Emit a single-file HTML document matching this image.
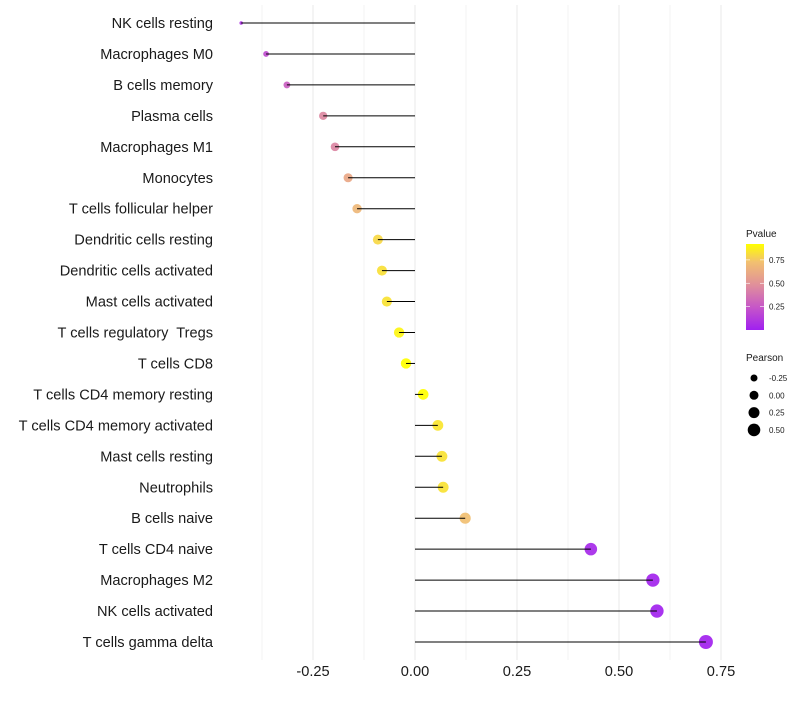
<!DOCTYPE html>
<html><head><meta charset="utf-8"><style>
body{margin:0;background:#fff;font-family:"Liberation Sans",sans-serif}
text{white-space:pre}
</style></head><body>
<svg id="c" width="800" height="700" xmlns="http://www.w3.org/2000/svg"></svg>
<script>
const categories=["NK cells resting","Macrophages M0","B cells memory","Plasma cells","Macrophages M1","Monocytes","T cells follicular helper","Dendritic cells resting","Dendritic cells activated","Mast cells activated","T cells regulatory  Tregs","T cells CD8","T cells CD4 memory resting","T cells CD4 memory activated","Mast cells resting","Neutrophils","B cells naive","T cells CD4 naive","Macrophages M2","NK cells activated","T cells gamma delta"];
const pearson=[-0.426,-0.365,-0.314,-0.225,-0.196,-0.164,-0.142,-0.091,-0.081,-0.069,-0.039,-0.022,0.020,0.056,0.066,0.069,0.123,0.431,0.583,0.593,0.713];
const pvalue=[0.08,0.2,0.28,0.45,0.44,0.6,0.68,0.82,0.85,0.86,0.93,0.99,0.99,0.87,0.86,0.86,0.72,0.04,0.02,0.015,0.01];
const xTicks=[-0.25,0,0.25,0.5,0.75];
const xTickLabels=["-0.25","0.00","0.25","0.50","0.75"];
const sizeBreaks=[-0.25,0,0.25,0.5];
const colorBreaks=[0.25,0.5,0.75];
const NS="http://www.w3.org/2000/svg",svg=document.getElementById('c');
function el(t,a,p){const e=document.createElementNS(NS,t);for(const k in a)e.setAttribute(k,a[k]);(p||svg).appendChild(e);return e;}
const x=v=>415+v*408;
const y=i=>23+i*30.95;
const rA=[[-0.45,1.3],[-0.36,3],[-0.25,4],[-0.09,5],[0,5.3],[0.25,5.8],[0.45,6.3],[0.75,7.1]];
function r(v){for(let i=0;i<rA.length-1;i++){const a=rA[i],b=rA[i+1];if(v<=b[0]||i==rA.length-2){const t=(v-a[0])/(b[0]-a[0]);return a[1]+(b[1]-a[1])*t;}}}
const stops=[[0,[160,32,240]],[0.25,[198,86,200]],[0.5,[224,144,154]],[0.75,[242,192,112]],[1,[255,255,0]]];
function col(p){p=Math.max(0,Math.min(1,p/0.97));let i=0;while(i<stops.length-2&&p>stops[i+1][0])i++;const a=stops[i],b=stops[i+1];const t=(p-a[0])/(b[0]-a[0]);return `rgb(${a[1].map((c,k)=>Math.round(c+(b[1][k]-c)*t)).join(',')})`;}
for(let v=-0.375;v<=0.76;v+=0.125){const g=el('line',{x1:x(v),x2:x(v),y1:5,y2:660,stroke:'#ebebeb','stroke-width':Math.abs((v/0.25)%1)<0.01?1.1:0.6});
}
xTicks.forEach((v,i)=>{const t=el('text',{x:x(v),y:676,'text-anchor':'middle','font-size':14.6,fill:'#1a1a1a'});t.textContent=xTickLabels[i];
});
categories.forEach((c,i)=>{
const t=el('text',{x:213,y:y(i)+5,'text-anchor':'end','font-size':14.6,fill:'#1a1a1a'});t.textContent=c;

const d=el('circle',{cx:x(pearson[i]),cy:y(i),r:r(pearson[i]),fill:col(pvalue[i]),'fill-opacity':0.92});

const l=el('line',{x1:x(0),x2:x(pearson[i]),y1:y(i),y2:y(i),stroke:'#000','stroke-width':1});

});
const defs=el('defs',{});const lg=el('linearGradient',{id:'g',x1:0,y1:1,x2:0,y2:0},defs);
stops.forEach(s=>el('stop',{offset:s[0]*0.97/0.92>1?1:s[0]*0.97/0.92,'stop-color':`rgb(${s[1].join(',')})`},lg));
let t=el('text',{x:746,y:237,'font-size':10,fill:'#1a1a1a'});t.textContent='Pvalue';

const bar=el('rect',{x:746,y:244,width:18,height:86,fill:'url(#g)'});

colorBreaks.forEach(v=>{const yy=330-v/0.92*86;
el('line',{x1:746,x2:750,y1:yy,y2:yy,stroke:'#fff','stroke-width':0.6});el('line',{x1:760,x2:764,y1:yy,y2:yy,stroke:'#fff','stroke-width':0.6});
const tt=el('text',{x:769,y:yy+3,'font-size':8,fill:'#1a1a1a'});tt.textContent=v.toFixed(2);
});
t=el('text',{x:746,y:361,'font-size':10,fill:'#1a1a1a'});t.textContent='Pearson';

const legR=[3.5,4.5,5.5,6.3];
sizeBreaks.forEach((v,i)=>{const yy=378+i*17.3;
const c=el('circle',{cx:754,cy:yy,r:legR[i],fill:'#000'});

const tt=el('text',{x:769,y:yy+3,'font-size':8,fill:'#1a1a1a'});tt.textContent=v.toFixed(2);
});
</script>
</body></html>
